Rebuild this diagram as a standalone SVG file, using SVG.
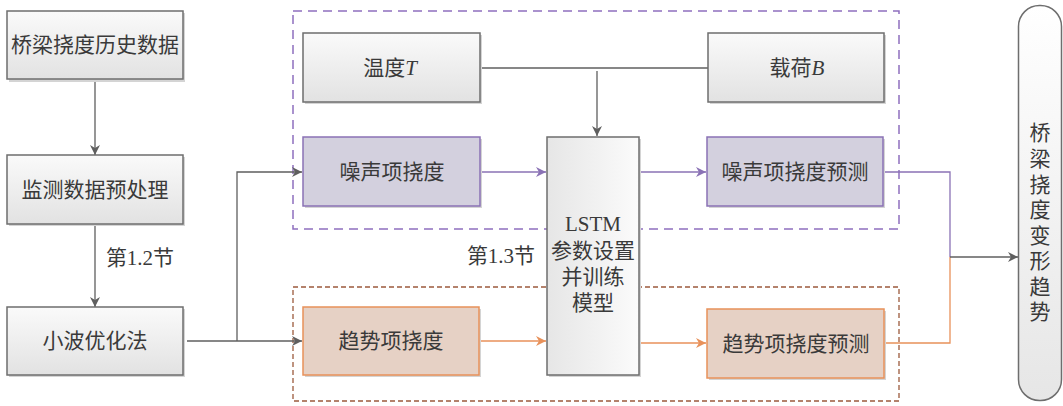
<svg xmlns="http://www.w3.org/2000/svg" width="1063" height="406" viewBox="0 0 1063 406">
<defs>
<linearGradient id="gv" x1="0" y1="0" x2="0" y2="1"><stop offset="0" stop-color="#fafafa"/><stop offset="1" stop-color="#e2e2e2"/></linearGradient>
<linearGradient id="gh" x1="0" y1="0" x2="1" y2="0"><stop offset="0" stop-color="#e6e6e6"/><stop offset="1" stop-color="#fbfbfb"/></linearGradient>
<linearGradient id="gr" x1="0" y1="0" x2="0" y2="1"><stop offset="0" stop-color="#ffffff"/><stop offset="1" stop-color="#e6e6e6"/></linearGradient>
<marker id="ag" viewBox="0 0 10 10" refX="10" refY="5" markerWidth="10" markerHeight="10" markerUnits="userSpaceOnUse" orient="auto"><path d="M0,0 L10,5 L0,10 L3,5 Z" fill="#5f5f5f"/></marker>
<marker id="ap" viewBox="0 0 10 10" refX="10" refY="5" markerWidth="10" markerHeight="10" markerUnits="userSpaceOnUse" orient="auto"><path d="M0,0 L10,5 L0,10 L3,5 Z" fill="#8a72b5"/></marker>
<marker id="ao" viewBox="0 0 10 10" refX="10" refY="5" markerWidth="10" markerHeight="10" markerUnits="userSpaceOnUse" orient="auto"><path d="M0,0 L10,5 L0,10 L3,5 Z" fill="#e8915a"/></marker>
</defs>
<style>
text{font-family:"Liberation Serif","Noto Sans CJK SC",serif;font-size:21px;fill:#3a3a3a;text-anchor:middle;dominant-baseline:central}
.shadow{fill:#d4d4d4}
.gbox{fill:url(#gv);stroke:#6e6e6e;stroke-width:1.5}
.pbox{fill:#d3d0de;stroke:#8a72b5;stroke-width:1.5}
.obox{fill:#e6d1c5;stroke:#e8915a;stroke-width:1.5}
.cg{fill:none;stroke:#5f5f5f;stroke-width:1.3}
.cp{fill:none;stroke:#8a72b5;stroke-width:1.3}
.co{fill:none;stroke:#e8915a;stroke-width:1.3}
.it{font-style:italic}
</style>
<g id="group-noise"><rect x="293" y="11" width="606" height="218" fill="none" stroke="#8e6fbf" stroke-width="1.5" stroke-dasharray="9,6"/></g>
<g id="group-trend"><rect x="293" y="287" width="606" height="114" fill="none" stroke="#9c5a3c" stroke-width="1.3" stroke-dasharray="5,3"/></g>
<g id="connectors">
<path class="cg" d="M95,79 V155" marker-end="url(#ag)"/>
<path class="cg" d="M95,224 V307" marker-end="url(#ag)"/>
<path class="cg" d="M187,341 H302" marker-end="url(#ag)"/>
<path class="cg" d="M237,341 V172 H302" marker-end="url(#ag)"/>
<path class="cg" d="M480,68 H708"/>
<path class="cg" d="M597,71 V136" marker-end="url(#ag)"/>
<path class="cp" d="M480,172 H546" marker-end="url(#ap)"/>
<path class="cp" d="M639,172 H706" marker-end="url(#ap)"/>
<path class="co" d="M479,341 H546" marker-end="url(#ao)"/>
<path class="co" d="M639,343 H706" marker-end="url(#ao)"/>
<path class="cp" d="M883,172 H950 V257"/>
<path class="co" d="M884,343 H950 V257"/>
<path class="cg" d="M950,257 H1018" marker-end="url(#ag)"/>
</g>
<g id="n-history"><rect class="shadow" x="9" y="13" width="176" height="69"/><rect class="gbox" x="7" y="11" width="176" height="68"/><text x="95" y="45">桥梁挠度历史数据</text></g>
<g id="n-preprocess"><rect class="shadow" x="9" y="157" width="176" height="69"/><rect class="gbox" x="7" y="155" width="176" height="69"/><text x="95" y="190">监测数据预处理</text></g>
<g id="n-wavelet"><rect class="shadow" x="9" y="309" width="176" height="68"/><rect class="gbox" x="7" y="307" width="176" height="68"/><text x="95" y="341">小波优化法</text></g>
<g id="l-12"><text x="140" y="258">第1.2节</text></g>
<g id="l-13"><text x="501" y="256">第1.3节</text></g>
<g id="n-temp"><rect class="shadow" x="305" y="35" width="177" height="69"/><rect class="gbox" x="303" y="33" width="177" height="69"/><text x="390" y="68">温度<tspan class="it">T</tspan></text></g>
<g id="n-load"><rect class="shadow" x="710" y="35" width="176" height="69"/><rect class="gbox" x="708" y="33" width="176" height="69"/><text x="797" y="68">载荷<tspan class="it">B</tspan></text></g>
<g id="n-noise"><rect class="shadow" x="305" y="139" width="177" height="69"/><rect class="pbox" x="303" y="137" width="177" height="69"/><text x="392" y="172">噪声项挠度</text></g>
<g id="n-lstm"><rect class="shadow" x="549" y="139" width="92" height="238"/><rect x="547" y="137" width="92" height="238" fill="url(#gh)" stroke="#6e6e6e" stroke-width="1.5"/><text x="593" y="224">LSTM</text><text x="593" y="251">参数设置</text><text x="593" y="277">并训练</text><text x="593" y="303">模型</text></g>
<g id="n-noisepred"><rect class="shadow" x="709" y="139" width="176" height="69"/><rect class="pbox" x="707" y="137" width="176" height="69"/><text x="795" y="172">噪声项挠度预测</text></g>
<g id="n-trend"><rect class="shadow" x="305" y="309" width="176" height="68"/><rect class="obox" x="303" y="307" width="176" height="68"/><text x="391" y="341">趋势项挠度</text></g>
<g id="n-trendpred"><rect class="shadow" x="709" y="311" width="177" height="69"/><rect class="obox" x="707" y="309" width="177" height="69"/><text x="796" y="344">趋势项挠度预测</text></g>
<g id="n-result"><rect x="1018.5" y="5.5" width="43" height="395" rx="21" ry="21" fill="url(#gr)" stroke="#6e6e6e" stroke-width="1.5"/>
<text x="1040" y="133">桥</text><text x="1040" y="159">梁</text><text x="1040" y="185">挠</text><text x="1040" y="210">度</text><text x="1040" y="236">变</text><text x="1040" y="261">形</text><text x="1040" y="287">趋</text><text x="1040" y="312">势</text></g>
</svg>
